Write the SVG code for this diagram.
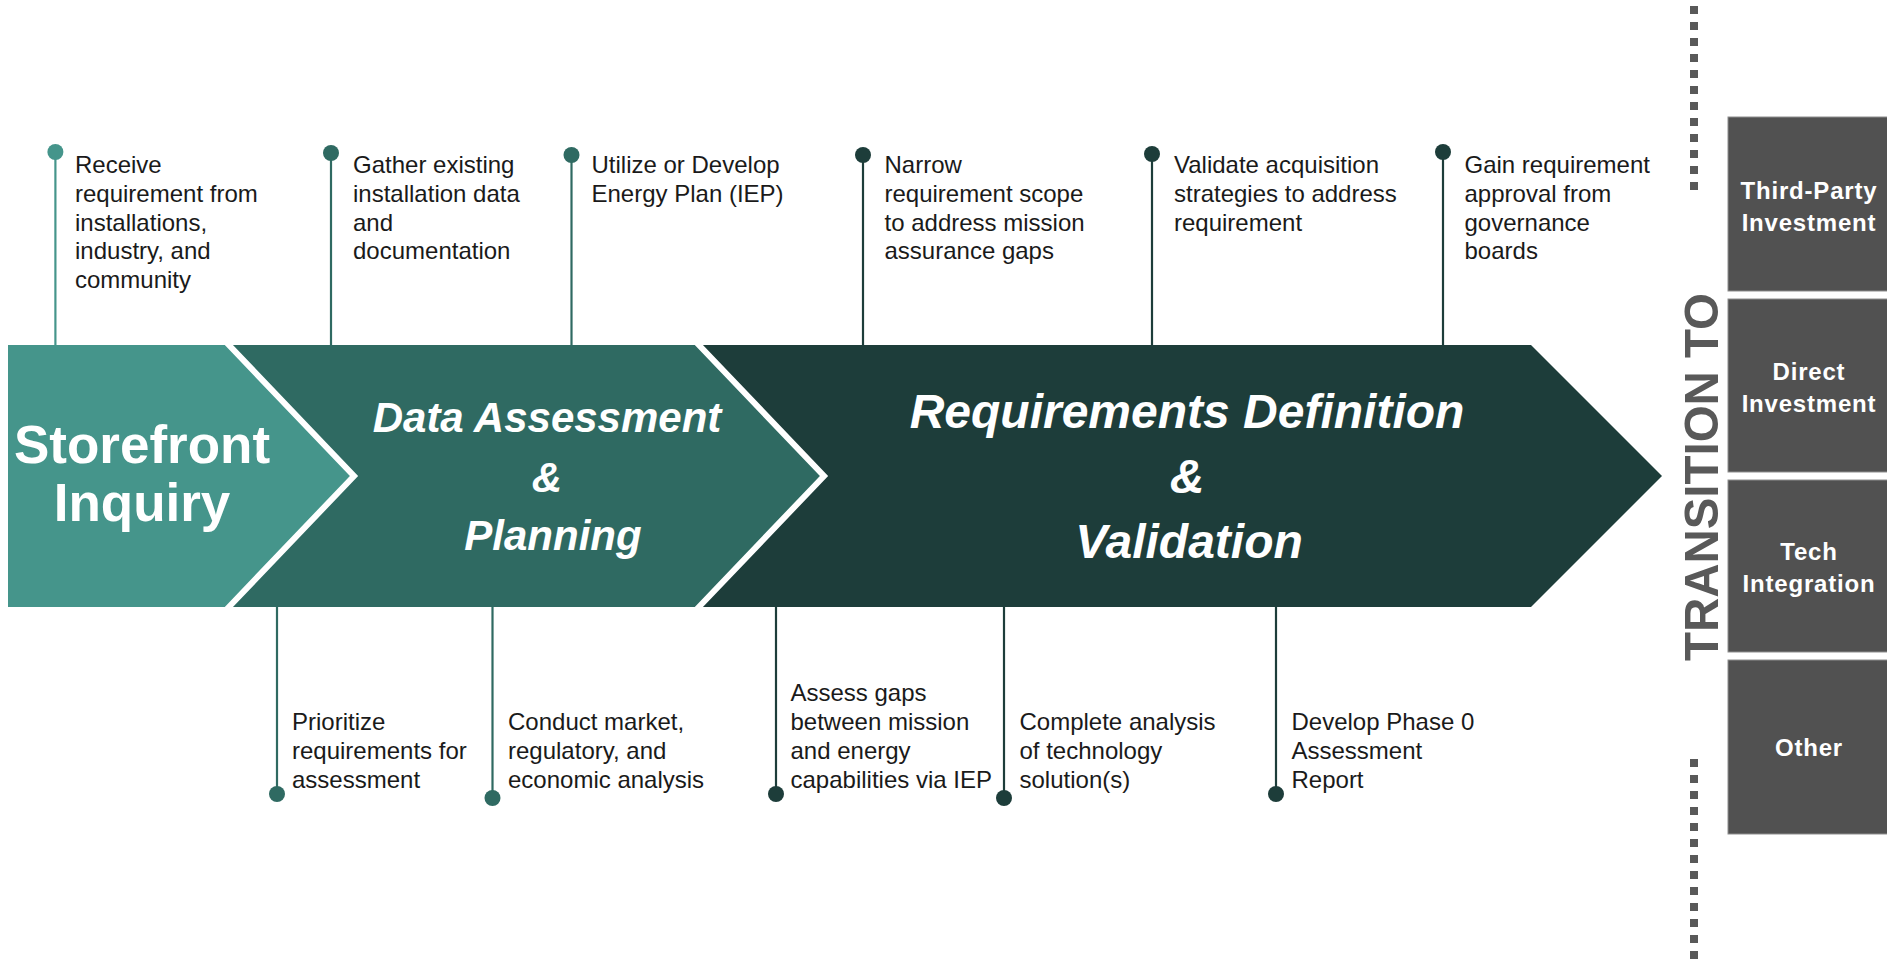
<svg xmlns="http://www.w3.org/2000/svg" width="1887" height="960" viewBox="0 0 1887 960">
<style>
.lbl{font-family:"Liberation Sans",Arial,sans-serif;font-size:24px;fill:#1a1a1a}
.stage{font-family:"Liberation Sans",Arial,sans-serif;font-weight:bold;fill:#ffffff;text-anchor:middle}
.it{font-style:italic}
.box{fill:#515151;stroke:#8e8e8e;stroke-width:1}
.boxt{font-family:"Liberation Sans",Arial,sans-serif;font-weight:bold;font-size:24px;fill:#ffffff;text-anchor:middle;letter-spacing:0.8px}
.c1{fill:#45958B}.c2{fill:#2F6A62}.c3{fill:#1D3D3A}
.l1{stroke:#45958B;stroke-width:2.2}.l2{stroke:#2F6A62;stroke-width:2.2}.l3{stroke:#1D3D3A;stroke-width:2.2}
.div{fill:none;stroke:#ffffff;stroke-width:6;stroke-linejoin:miter}
.dots{stroke:#595959;stroke-width:8;stroke-dasharray:8 8}
</style>
<rect width="1887" height="960" fill="#ffffff"/>

<g id="stage-requirements">
  <polygon class="c3" points="680,345 1531,345 1662,476 1531,607 680,607"/>
  <text class="stage it" font-size="48" x="1187" y="428">Requirements Definition</text>
  <text class="stage it" font-size="48" x="1187" y="493">&amp;</text>
  <text class="stage it" font-size="48" x="1189" y="558">Validation</text>
</g>
<g id="stage-data">
  <polygon class="c2" points="200,345 696,345 824,476 696,607 200,607"/>
  <polyline class="div" points="696,342 824,476 696,610"/>
  <text class="stage it" font-size="42" x="547" y="432">Data Assessment</text>
  <text class="stage it" font-size="42" x="547" y="492">&amp;</text>
  <text class="stage it" font-size="42" x="553" y="550">Planning</text>
</g>
<g id="stage-storefront">
  <polygon class="c1" points="8,345 226,345 354,476 226,607 8,607"/>
  <polyline class="div" points="226,342 354,476 226,610"/>
  <text class="stage" font-size="53" x="142" y="463">Storefront</text>
  <text class="stage" font-size="53" x="142" y="521">Inquiry</text>
</g>

<g id="connectors">
  <line class="l1" x1="55.4" y1="152" x2="55.4" y2="345"/>
  <line class="l2" x1="331" y1="153" x2="331" y2="345"/>
  <line class="l2" x1="571.5" y1="155" x2="571.5" y2="345"/>
  <line class="l3" x1="863" y1="155" x2="863" y2="345"/>
  <line class="l3" x1="1152" y1="154" x2="1152" y2="345"/>
  <line class="l3" x1="1443" y1="152" x2="1443" y2="345"/>
  <line class="l2" x1="277" y1="607" x2="277" y2="794"/>
  <line class="l2" x1="492.5" y1="607" x2="492.5" y2="798"/>
  <line class="l3" x1="776" y1="607" x2="776" y2="794"/>
  <line class="l3" x1="1004" y1="607" x2="1004" y2="798"/>
  <line class="l3" x1="1276" y1="607" x2="1276" y2="794"/>
</g>

<g id="step-receive">
  <circle class="c1" cx="55.4" cy="152" r="8"/>
  <text class="lbl" x="75" y="173"><tspan x="75">Receive</tspan><tspan x="75" dy="28.8">requirement from</tspan><tspan x="75" dy="28.8">installations,</tspan><tspan x="75" dy="28.8">industry, and</tspan><tspan x="75" dy="28.8">community</tspan></text>
</g>
<g id="step-gather">
  <circle class="c2" cx="331" cy="153" r="8"/>
  <text class="lbl" x="353" y="173"><tspan x="353">Gather existing</tspan><tspan x="353" dy="28.8">installation data</tspan><tspan x="353" dy="28.8">and</tspan><tspan x="353" dy="28.8">documentation</tspan></text>
</g>
<g id="step-utilize">
  <circle class="c2" cx="571.5" cy="155" r="8"/>
  <text class="lbl" x="591.5" y="173"><tspan x="591.5">Utilize or Develop</tspan><tspan x="591.5" dy="28.8">Energy Plan (IEP)</tspan></text>
</g>
<g id="step-narrow">
  <circle class="c3" cx="863" cy="155" r="8"/>
  <text class="lbl" x="884.5" y="173"><tspan x="884.5">Narrow</tspan><tspan x="884.5" dy="28.8">requirement scope</tspan><tspan x="884.5" dy="28.8">to address mission</tspan><tspan x="884.5" dy="28.8">assurance gaps</tspan></text>
</g>
<g id="step-validate">
  <circle class="c3" cx="1152" cy="154" r="8"/>
  <text class="lbl" x="1174" y="173"><tspan x="1174">Validate acquisition</tspan><tspan x="1174" dy="28.8">strategies to address</tspan><tspan x="1174" dy="28.8">requirement</tspan></text>
</g>
<g id="step-gain">
  <circle class="c3" cx="1443" cy="152" r="8"/>
  <text class="lbl" x="1464.5" y="173"><tspan x="1464.5">Gain requirement</tspan><tspan x="1464.5" dy="28.8">approval from</tspan><tspan x="1464.5" dy="28.8">governance</tspan><tspan x="1464.5" dy="28.8">boards</tspan></text>
</g>

<g id="step-prioritize">
  <circle class="c2" cx="277" cy="794" r="8"/>
  <text class="lbl" x="292" y="730"><tspan x="292">Prioritize</tspan><tspan x="292" dy="29">requirements for</tspan><tspan x="292" dy="29">assessment</tspan></text>
</g>
<g id="step-conduct">
  <circle class="c2" cx="492.5" cy="798" r="8"/>
  <text class="lbl" x="508" y="730"><tspan x="508">Conduct market,</tspan><tspan x="508" dy="29">regulatory, and</tspan><tspan x="508" dy="29">economic analysis</tspan></text>
</g>
<g id="step-assess">
  <circle class="c3" cx="776" cy="794" r="8"/>
  <text class="lbl" x="790.5" y="701"><tspan x="790.5">Assess gaps</tspan><tspan x="790.5" dy="29">between mission</tspan><tspan x="790.5" dy="29">and energy</tspan><tspan x="790.5" dy="29">capabilities via IEP</tspan></text>
</g>
<g id="step-complete">
  <circle class="c3" cx="1004" cy="798" r="8"/>
  <text class="lbl" x="1019.5" y="730"><tspan x="1019.5">Complete analysis</tspan><tspan x="1019.5" dy="29">of technology</tspan><tspan x="1019.5" dy="29">solution(s)</tspan></text>
</g>
<g id="step-develop">
  <circle class="c3" cx="1276" cy="794" r="8"/>
  <text class="lbl" x="1291.5" y="730"><tspan x="1291.5">Develop Phase 0</tspan><tspan x="1291.5" dy="29">Assessment</tspan><tspan x="1291.5" dy="29">Report</tspan></text>
</g>

<g id="transition">
  <line class="dots" x1="1694" y1="6" x2="1694" y2="192"/>
  <line class="dots" x1="1694" y1="759" x2="1694" y2="960"/>
  <text transform="translate(1718,661) rotate(-90)" x="0" y="0" font-family="'Liberation Sans Narrow','Liberation Sans',Arial,sans-serif" font-weight="bold" font-size="49" fill="#595959" textLength="368" lengthAdjust="spacingAndGlyphs">TRANSITION TO</text>
</g>

<g id="box-third-party">
  <rect class="box" x="1728" y="117" width="162" height="174"/>
  <text class="boxt" x="1809" y="199">Third-Party</text>
  <text class="boxt" x="1809" y="230.5">Investment</text>
</g>
<g id="box-direct">
  <rect class="box" x="1728" y="299" width="162" height="173"/>
  <text class="boxt" x="1809" y="380">Direct</text>
  <text class="boxt" x="1809" y="411.5">Investment</text>
</g>
<g id="box-tech">
  <rect class="box" x="1728" y="480" width="162" height="172"/>
  <text class="boxt" x="1809" y="560">Tech</text>
  <text class="boxt" x="1809" y="591.5">Integration</text>
</g>
<g id="box-other">
  <rect class="box" x="1728" y="660" width="162" height="174"/>
  <text class="boxt" x="1809" y="756">Other</text>
</g>
</svg>
